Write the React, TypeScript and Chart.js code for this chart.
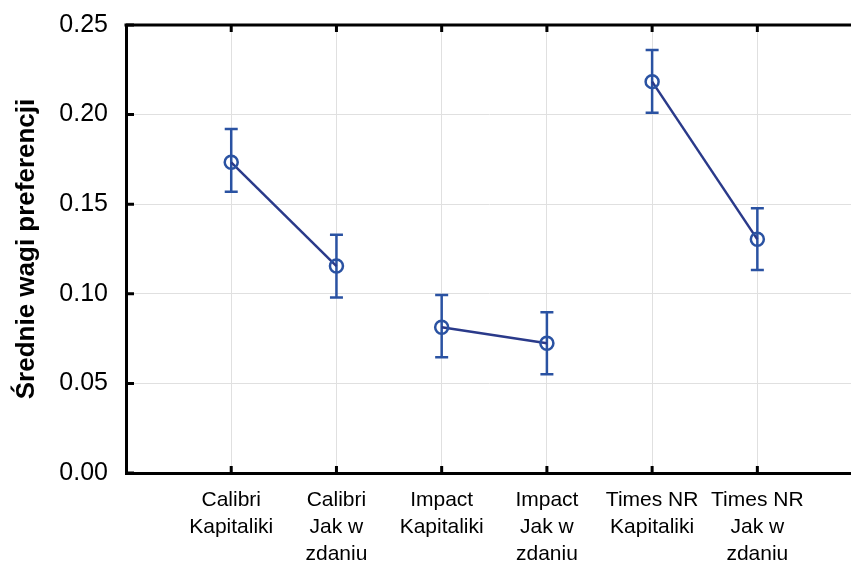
import React, { useEffect, useRef } from "react";
import { Chart, registerables } from "chart.js";

Chart.register(...registerables);

const categories: string[][] = [
  ["Calibri", "Kapitaliki"],
  ["Calibri", "Jak w", "zdaniu"],
  ["Impact", "Kapitaliki"],
  ["Impact", "Jak w", "zdaniu"],
  ["Times NR", "Kapitaliki"],
  ["Times NR", "Jak w", "zdaniu"],
];
const means = [0.1734, 0.1155, 0.0813, 0.0724, 0.2184, 0.1304];
const upper = [0.192, 0.133, 0.0993, 0.0897, 0.236, 0.1477];
const lower = [0.157, 0.098, 0.0646, 0.0551, 0.2011, 0.1133];
const groups = [
  [0, 1],
  [2, 3],
  [4, 5],
];
const yTicks = [0, 0.05, 0.1, 0.15, 0.2, 0.25];
const yTitle = "Średnie wagi preferencji";

const markerColor = "#2a52a2";
const lineColor = "#2a3a8a";

const errorBarPlugin = {
  id: "errorBarsAndFrame",
  beforeDatasetsDraw(chart: any) {
    const { ctx, scales } = chart;
    const x = scales.x;
    const y = scales.y;
    ctx.save();
    ctx.strokeStyle = markerColor;
    ctx.lineWidth = 2.5;
    ctx.lineCap = "butt";
    means.forEach((_, i) => {
      const px = x.getPixelForValue(i + 1);
      const t = y.getPixelForValue(upper[i]);
      const b = y.getPixelForValue(lower[i]);
      ctx.beginPath();
      ctx.moveTo(px, t);
      ctx.lineTo(px, b);
      ctx.moveTo(px - 6.5, t);
      ctx.lineTo(px + 6.5, t);
      ctx.moveTo(px - 6.5, b);
      ctx.lineTo(px + 6.5, b);
      ctx.stroke();
    });
    ctx.restore();
  },
  afterDraw(chart: any) {
    const { ctx, chartArea, scales } = chart;
    const x = scales.x;
    const y = scales.y;
    ctx.save();
    ctx.strokeStyle = "#000";
    ctx.lineWidth = 3;
    ctx.beginPath();
    ctx.moveTo(chartArea.left - 1.5, chartArea.top);
    ctx.lineTo(chartArea.right + 20, chartArea.top);
    ctx.stroke();
    ctx.beginPath();
    categories.forEach((_, i) => {
      const px = x.getPixelForValue(i + 1);
      ctx.moveTo(px, chartArea.top);
      ctx.lineTo(px, chartArea.top + 7);
      ctx.moveTo(px, chartArea.bottom);
      ctx.lineTo(px, chartArea.bottom - 7);
    });
    yTicks.forEach((v) => {
      const py = y.getPixelForValue(v);
      ctx.moveTo(chartArea.left, py);
      ctx.lineTo(chartArea.left + 8, py);
    });
    ctx.stroke();
    ctx.restore();
  },
};

export default function App() {
  const ref = useRef<HTMLCanvasElement>(null);
  useEffect(() => {
    if (!ref.current) return;
    Chart.defaults.font.family = "'Liberation Sans', Arial, sans-serif";
    const datasets = groups.map((g) => ({
      data: g.map((i) => ({ x: i + 1, y: means[i] })),
      borderColor: lineColor,
      borderWidth: 2.5,
      pointRadius: 6.5,
      pointBorderWidth: 2.5,
      pointBorderColor: markerColor,
      pointBackgroundColor: "rgba(0,0,0,0)",
      fill: false,
      tension: 0,
    }));
    const chart = new Chart(ref.current, {
      type: "line",
      data: { datasets },
      options: {
        animation: false,
        responsive: false,
        devicePixelRatio: 1,
        layout: { autoPadding: false, padding: { left: 0, right: 0, top: 25, bottom: 0 } },
        plugins: { legend: { display: false }, tooltip: { enabled: false } },
        scales: {
          x: {
            type: "linear",
            min: 0,
            max: 6.89,
            afterBuildTicks: (s: any) => {
              s.ticks = categories.map((_, i) => ({ value: i + 1 }));
            },
            afterFit: (s: any) => {
              s.height = 90;
              s.paddingLeft = 0;
              s.paddingRight = 0;
              s.paddingTop = 0;
              s.paddingBottom = 0;
            },
            grid: { color: "#e0e0e0", lineWidth: 1, drawTicks: false },
            border: { display: true, color: "#000", width: 3 },
            ticks: {
              autoSkip: false,
              maxRotation: 0,
              padding: 14,
              color: "#000",
              font: { size: 21, lineHeight: 1.28 },
              callback: (v: any) => categories[Math.round(v) - 1] || "",
            },
          },
          y: {
            min: 0,
            max: 0.25,
            afterBuildTicks: (s: any) => {
              s.ticks = yTicks.map((v) => ({ value: v }));
            },
            afterFit: (s: any) => {
              s.width = 126;
              s.paddingLeft = 0;
              s.paddingRight = 0;
              s.paddingTop = 0;
              s.paddingBottom = 0;
            },
            grid: { color: "#e0e0e0", lineWidth: 1, drawTicks: false },
            border: { display: true, color: "#000", width: 3 },
            ticks: {
              padding: 18,
              color: "#000",
              font: { size: 25 },
              callback: (v: any) => Number(v).toFixed(2),
            },
            title: {
              display: true,
              text: yTitle,
              color: "#000",
              font: { size: 26, weight: "bold" },
              padding: { top: 11, bottom: 0 },
            },
          },
        },
      },
      plugins: [errorBarPlugin],
    } as any);
    return () => chart.destroy();
  }, []);
  return (
    <div style={{ position: "absolute", left: 0, top: 0, width: 851, height: 563, overflow: "hidden", background: "#fff" }}>
      <canvas ref={ref} width={851} height={563} style={{ display: "block" }} />
    </div>
  );
}
